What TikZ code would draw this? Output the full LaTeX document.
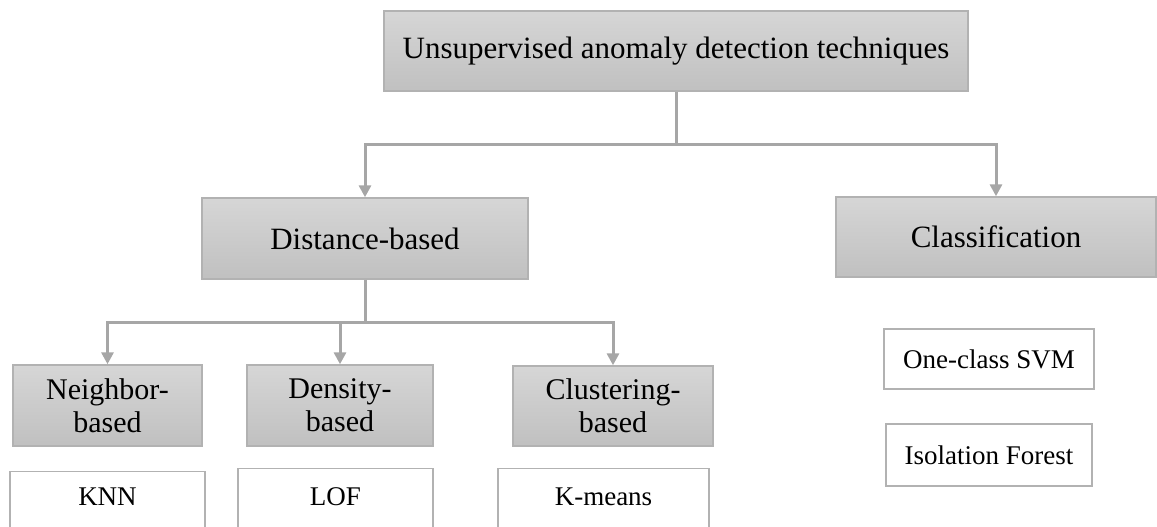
\documentclass[tikz,border=0pt]{standalone}
\usepackage{fontspec}
\setmainfont{Liberation Serif}
\usepackage{tikz}
\usetikzlibrary{arrows.meta,calc,positioning}
\definecolor{boxtop}{RGB}{214,214,214}
\definecolor{boxbot}{RGB}{192,192,192}
\definecolor{boxline}{RGB}{178,178,178}
\definecolor{connline}{RGB}{166,166,166}
\begin{document}
\begin{tikzpicture}[x=1pt,y=-1pt,>={Triangle[length=12pt,width=12pt]},
    catbox/.style={draw=boxline,line width=1.4pt,top color=boxtop,bottom color=boxbot,
      align=center,font=\fontsize{31}{33}\selectfont,inner sep=0pt},
    algbox/.style={draw=boxline,line width=1.4pt,fill=white,align=center,
      font=\fontsize{27}{30}\selectfont,inner sep=0pt},
    conn/.style={->,draw=connline,line width=3pt}]
        \useasboundingbox (0,0) rectangle (1157,527);
        \clip (0,0) rectangle (1157,527);
        % category boxes
        \node[catbox,minimum width=584pt,minimum height=80pt] (top) at (676,51)
          {Unsupervised anomaly detection techniques};
        \node[catbox,minimum width=326pt,minimum height=81pt] (dist) at (365,238.5) {Distance-based};
        \node[catbox,minimum width=320pt,minimum height=80pt] (cls) at (996,237) {Classification};
        \node[catbox,minimum width=189pt,minimum height=81pt,font=\fontsize{30}{33}\selectfont] (nbr) at (107.5,405.5) {Neighbor-\\based};
        \node[catbox,minimum width=186pt,minimum height=81pt,font=\fontsize{30}{33}\selectfont] (dens) at (340,405.5) {Density-\\based};
        \node[catbox,minimum width=200pt,minimum height=80pt,font=\fontsize{30}{33}\selectfont] (clus) at (613,406) {Clustering-\\based};
        % algorithm boxes
        \node[algbox,anchor=north,minimum width=195pt,text height=34pt,text depth=40pt] (knn) at (107.5,471) {KNN};
        \node[algbox,anchor=north,minimum width=195pt,text height=37pt,text depth=40pt] (lof) at (335.5,468) {LOF};
        \node[algbox,anchor=north,minimum width=211pt,text height=37pt,text depth=40pt] (kmeans) at (603.5,468) {K-means};
        \node[algbox,minimum width=210pt,minimum height=60pt] (svm) at (989,359) {One-class SVM};
        \node[algbox,minimum width=206pt,minimum height=62pt] (iforest) at (989,455) {Isolation Forest};
        % connectors
        \coordinate (j1) at (676,144);
        \coordinate (j2) at (365,322);
        \draw[conn,-] (top.south) -- (j1);
        \draw[conn] (j1) -| (dist.north);
        \draw[conn] (j1) -| (cls.north);
        \draw[conn,-] (dist.south) -- (j2);
        \draw[conn] (j2) -| (nbr.north);
        \draw[conn] (j2) -| (dens.north);
        \draw[conn] (j2) -| (clus.north);
      \end{tikzpicture}
\end{document}
